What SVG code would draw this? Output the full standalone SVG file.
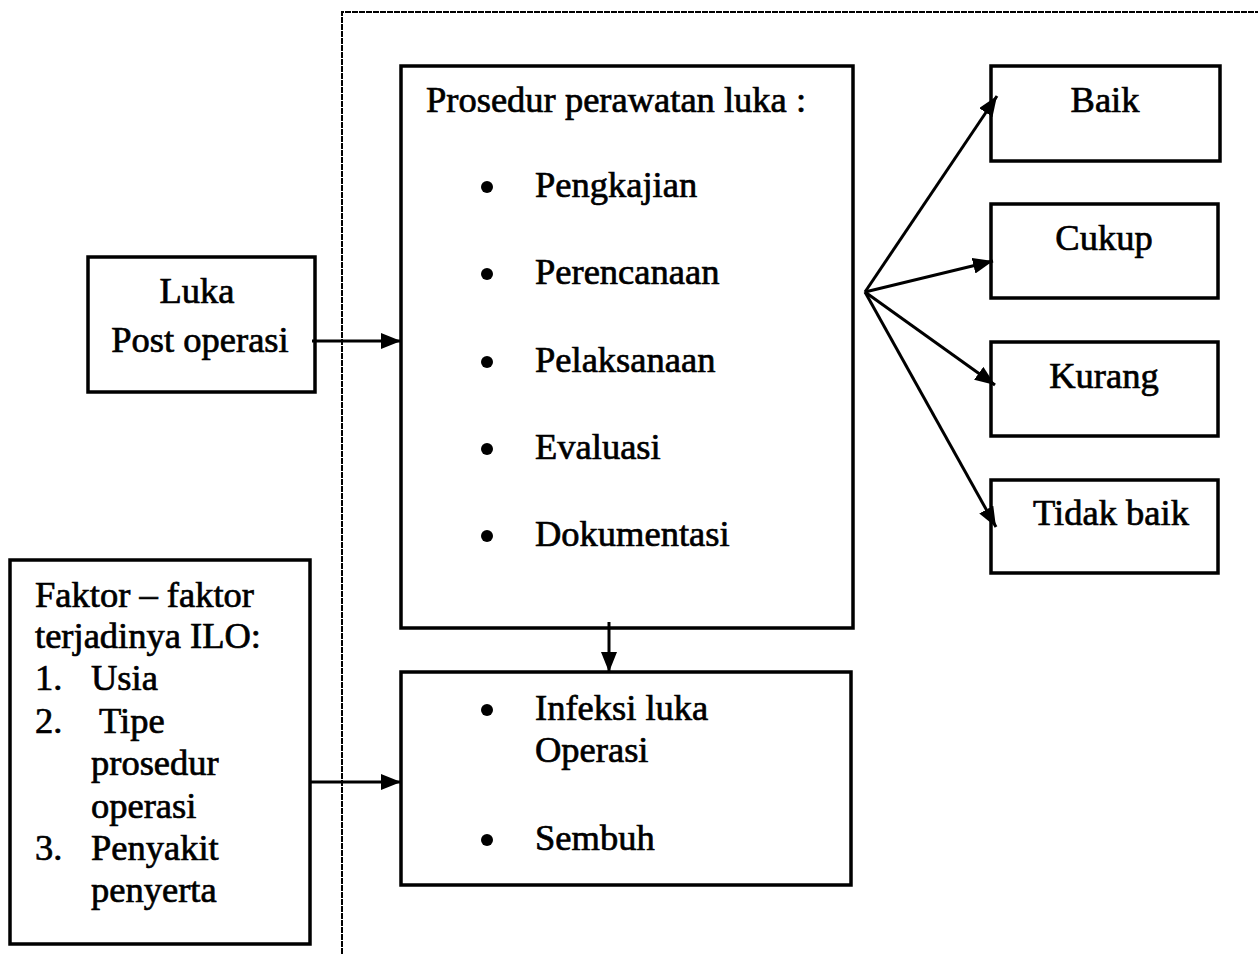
<svg xmlns="http://www.w3.org/2000/svg" width="1258" height="954" viewBox="0 0 1258 954">
<style>
.box{fill:none;stroke:#000;stroke-width:3.5}
.t{font-family:"Liberation Serif","Times New Roman",serif;font-size:36.5px;fill:#000;stroke:#000;stroke-width:0.7}
.c{text-anchor:middle}
.ln{stroke:#000;stroke-width:3;fill:none}
.bul{fill:#000}
</style>
<defs>
<marker id="a" viewBox="0 0 20 16" refX="20" refY="8" markerWidth="20" markerHeight="16" markerUnits="userSpaceOnUse" orient="auto">
<path d="M0,0 L20,8 L0,16 z" fill="#000"/>
</marker>
</defs>
<rect width="1258" height="954" fill="#fff"/>
<g id="frame">
<polyline points="342,954 342,12 1258,12" fill="none" stroke="#000" stroke-width="2" stroke-dasharray="6,1"/>
</g>
<g id="luka">
<rect class="box" x="88" y="257" width="227" height="135"/>
<text class="t c" x="197" y="303">Luka</text>
<text class="t c" x="200" y="352">Post operasi</text>
</g>
<g id="prosedur">
<rect class="box" x="401" y="66" width="452" height="562"/>
<text class="t" x="426" y="112">Prosedur perawatan luka :</text>
<circle class="bul" cx="487" cy="187" r="6"/><text class="t" x="535" y="197">Pengkajian</text>
<circle class="bul" cx="487" cy="274" r="6"/><text class="t" x="535" y="284">Perencanaan</text>
<circle class="bul" cx="487" cy="362" r="6"/><text class="t" x="535" y="372">Pelaksanaan</text>
<circle class="bul" cx="487" cy="449" r="6"/><text class="t" x="535" y="459">Evaluasi</text>
<circle class="bul" cx="487" cy="536" r="6"/><text class="t" x="535" y="546">Dokumentasi</text>
</g>
<g id="hasil">
<rect class="box" x="401" y="672" width="450" height="213"/>
<circle class="bul" cx="487" cy="710" r="6"/><text class="t" x="535" y="720">Infeksi luka</text>
<text class="t" x="535" y="762">Operasi</text>
<circle class="bul" cx="487" cy="840" r="6"/><text class="t" x="535" y="850">Sembuh</text>
</g>
<g id="faktor">
<rect class="box" x="10" y="560" width="300" height="384"/>
<text class="t" x="35" y="607">Faktor – faktor</text>
<text class="t" x="35" y="648">terjadinya ILO:</text>
<text class="t" x="35" y="690">1.</text><text class="t" x="91" y="690">Usia</text>
<text class="t" x="35" y="733">2.</text><text class="t" x="99" y="733">Tipe</text>
<text class="t" x="91" y="775">prosedur</text>
<text class="t" x="91" y="818">operasi</text>
<text class="t" x="35" y="860">3.</text><text class="t" x="91" y="860">Penyakit</text>
<text class="t" x="91" y="902">penyerta</text>
</g>
<g id="baik">
<rect class="box" x="991" y="66" width="229" height="95"/>
<text class="t c" x="1105" y="112">Baik</text>
</g>
<g id="cukup">
<rect class="box" x="991" y="204" width="227" height="94"/>
<text class="t c" x="1104" y="250">Cukup</text>
</g>
<g id="kurang">
<rect class="box" x="991" y="342" width="227" height="94"/>
<text class="t c" x="1104" y="388">Kurang</text>
</g>
<g id="tidakbaik">
<rect class="box" x="991" y="480" width="227" height="93"/>
<text class="t c" x="1111" y="525">Tidak baik</text>
</g>
<g id="connectors">
<line class="ln" x1="312" y1="341" x2="401" y2="341" marker-end="url(#a)"/>
<line class="ln" x1="310" y1="782" x2="401" y2="782" marker-end="url(#a)"/>
<line class="ln" x1="609" y1="622" x2="609" y2="672" marker-end="url(#a)"/>
<line class="ln" x1="865" y1="292" x2="997" y2="96" marker-end="url(#a)"/>
<line class="ln" x1="865" y1="292" x2="993" y2="261" marker-end="url(#a)"/>
<line class="ln" x1="865" y1="292" x2="995" y2="385" marker-end="url(#a)"/>
<line class="ln" x1="865" y1="292" x2="996" y2="527" marker-end="url(#a)"/>
</g>
</svg>
